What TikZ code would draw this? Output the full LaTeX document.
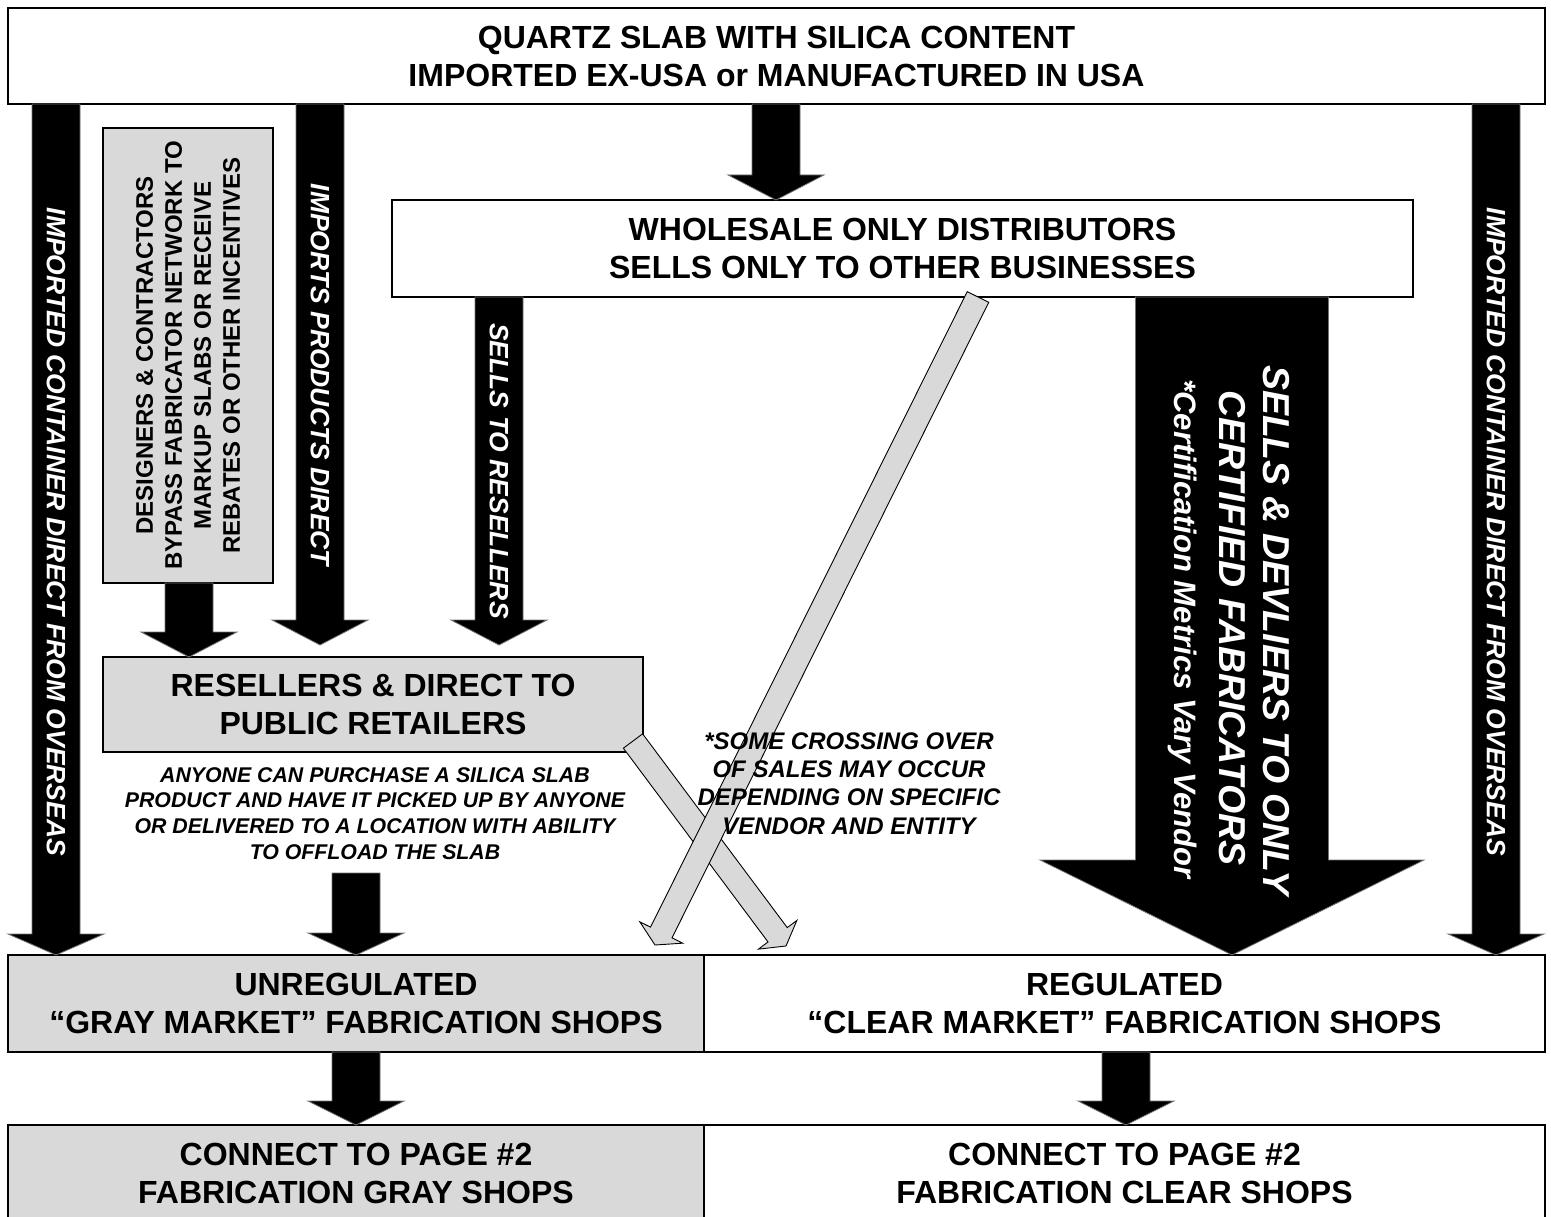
\documentclass[tikz,border=0pt]{standalone}
\usepackage{fontspec}
\setmainfont{Liberation Sans}
\usetikzlibrary{calc}
% block arrow: #1 style, #2 start coord, #3 tip coord, #4 shaft half width, #5 head half width, #6 head length
\newcommand\blkarrow[6]{%
  \path[#1] ($(#2)!#4!90:(#3)$) -- ($(#3)!#6!(#2)!#4!90:(#3)$) -- ($(#3)!#6!(#2)!#5!90:(#3)$) -- (#3)
    -- ($(#3)!#6!(#2)!#5!-90:(#3)$) -- ($(#3)!#6!(#2)!#4!-90:(#3)$) -- ($(#2)!#4!-90:(#3)$) -- cycle;}
\tikzset{
  box/.style={draw=black, line width=2.5pt, inner sep=0pt, align=center,
    font=\fontsize{32}{38}\selectfont\bfseries},
  graybox/.style={box, fill=black!15},
  whitebox/.style={box, fill=white},
  blk/.style={fill=black, draw=black!55, line width=0.8pt},
  gry/.style={fill=black!15, draw=black, line width=0.9pt},
  vtext/.style={text=white, inner sep=0pt, align=center,
    font=\fontsize{26.5}{30}\selectfont\bfseries\itshape},
  note/.style={text=black, inner sep=0pt, align=center}
}
\begin{document}
\begin{tikzpicture}[x=1pt,y=-1pt]
\useasboundingbox (0,0) rectangle (1551,1217);
\fill[white] (0,0) rectangle (1551,1217);

% ---------- boxes ----------
\node[whitebox, minimum width=1537, minimum height=96] (quartz) at (776.5,56)
  {QUARTZ SLAB WITH SILICA CONTENT\\IMPORTED EX-USA or MANUFACTURED IN USA};
\node[whitebox, minimum width=1021, minimum height=97] (wholesale) at (902.5,248.5)
  {WHOLESALE ONLY DISTRIBUTORS\\SELLS ONLY TO OTHER BUSINESSES};
\node[graybox, rotate=90, minimum width=455, minimum height=170,
  font=\fontsize{24}{29}\selectfont\bfseries] (designers) at (188,355.5)
  {DESIGNERS \& CONTRACTORS\\BYPASS FABRICATOR NETWORK TO\\MARKUP SLABS OR RECEIVE\\REBATES OR OTHER INCENTIVES};
\node[graybox, minimum width=540, minimum height=95] (resellers) at (373,704.5)
  {RESELLERS \& DIRECT TO\\PUBLIC RETAILERS};
\node[graybox, minimum width=696, minimum height=97] (unreg) at (356,1003.5)
  {UNREGULATED\\“GRAY MARKET” FABRICATION SHOPS};
\node[whitebox, minimum width=841, minimum height=97] (reg) at (1124.5,1003.5)
  {REGULATED\\“CLEAR MARKET” FABRICATION SHOPS};
\node[graybox, minimum width=696, minimum height=96] (graypage) at (356,1173)
  {CONNECT TO PAGE \#2\\FABRICATION GRAY SHOPS};
\node[whitebox, minimum width=841, minimum height=96] (clearpage) at (1124.5,1173)
  {CONNECT TO PAGE \#2\\FABRICATION CLEAR SHOPS};

% ---------- arrow end points ----------
\coordinate (leftS) at (56,104);    \coordinate (leftE) at (56,955);
\coordinate (rightS) at (1496,104); \coordinate (rightE) at (1496,955);
\coordinate (midS) at (776,104);    \coordinate (midE) at (776,200);
\coordinate (impS) at (320,104);    \coordinate (impE) at (320,645);
\coordinate (desS) at (189,583);    \coordinate (desE) at (189,657);
\coordinate (selS) at (499,297);    \coordinate (selE) at (499,645);
\coordinate (anyS) at (356,873);    \coordinate (anyE) at (356,955);
\coordinate (bigS) at (1232,297);   \coordinate (bigE) at (1232,955);
\coordinate (grS) at (356,1052);    \coordinate (grE) at (356,1125);
\coordinate (clS) at (1126,1052);   \coordinate (clE) at (1126,1125);
\coordinate (xaS) at (978,297);     \coordinate (xaE) at (655,945);
\coordinate (xbS) at (633,741);     \coordinate (xbE) at (786,946);

% ---------- black block arrows ----------
\blkarrow{blk}{leftS}{leftE}{24pt}{48pt}{21pt}
\blkarrow{blk}{rightS}{rightE}{24pt}{48pt}{21pt}
\blkarrow{blk}{midS}{midE}{24pt}{48pt}{25pt}
\blkarrow{blk}{impS}{impE}{24pt}{48pt}{25pt}
\blkarrow{blk}{desS}{desE}{24pt}{48pt}{25pt}
\blkarrow{blk}{selS}{selE}{24pt}{48pt}{25pt}
\blkarrow{blk}{anyS}{anyE}{24pt}{48pt}{22pt}
\blkarrow{blk}{bigS}{bigE}{96.5pt}{192pt}{95pt}
\blkarrow{blk}{grS}{grE}{24pt}{48pt}{24pt}
\blkarrow{blk}{clS}{clE}{24pt}{48pt}{24pt}

% ---------- gray crossing arrows ----------
\blkarrow{gry}{xbS}{xbE}{12pt}{24pt}{14pt}
\blkarrow{gry}{xaS}{xaE}{12pt}{24pt}{14pt}

% ---------- texts on arrows ----------
\node[vtext, rotate=-90] (tleft) at (56,532) {IMPORTED CONTAINER DIRECT FROM OVERSEAS};
\node[vtext, rotate=-90] (tright) at (1496,532) {IMPORTED CONTAINER DIRECT FROM OVERSEAS};
\node[vtext, rotate=-90] (timp) at (320,375) {IMPORTS PRODUCTS DIRECT};
\node[vtext, rotate=-90] (tsel) at (499,471) {SELLS TO RESELLERS};
\node[vtext, rotate=-90, font=\fontsize{37.5}{44}\selectfont\bfseries\itshape] (tbig1) at (1276,630)
  {SELLS \& DEVLIERS TO ONLY};
\node[vtext, rotate=-90, font=\fontsize{37.5}{44}\selectfont\bfseries\itshape] (tbig2) at (1232,628)
  {CERTIFIED FABRICATORS};
\node[vtext, rotate=-90, font=\fontsize{31}{36}\selectfont\bfseries\itshape] (tbig3) at (1183,629)
  {*Certification Metrics Vary Vendor};

% ---------- notes ----------
\node[note, font=\fontsize{21.3}{25.7}\selectfont\bfseries\itshape] (anyone) at (375,813.5)
  {ANYONE CAN PURCHASE A SILICA SLAB\\PRODUCT AND HAVE IT PICKED UP BY ANYONE\\OR DELIVERED TO A LOCATION WITH ABILITY\\TO OFFLOAD THE SLAB};
\node[note, font=\fontsize{24}{28.3}\selectfont\bfseries\itshape] (crossing) at (849,783.5)
  {*SOME CROSSING OVER\\OF SALES MAY OCCUR\\DEPENDING ON SPECIFIC\\VENDOR AND ENTITY};
\end{tikzpicture}
\end{document}
